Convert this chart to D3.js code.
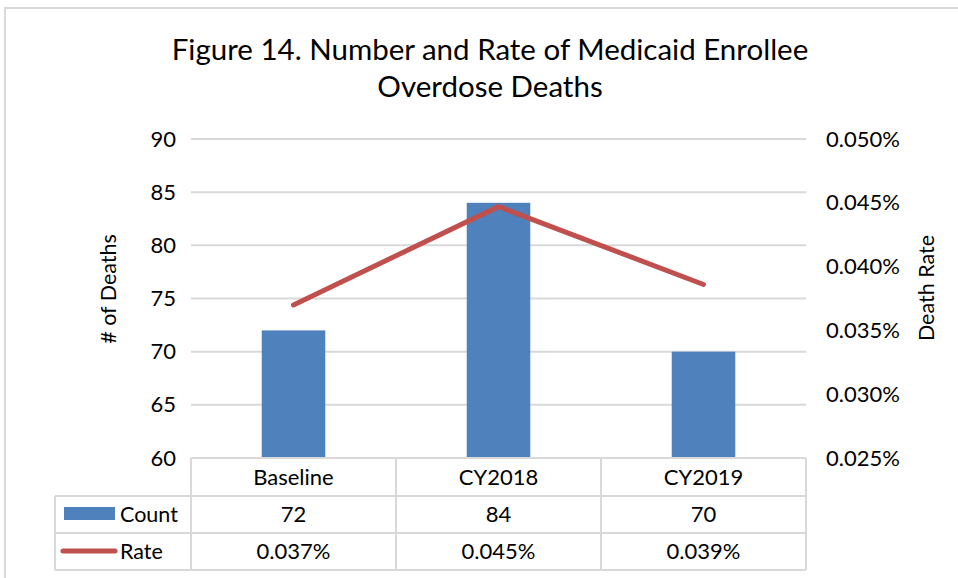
<!DOCTYPE html>
<html><head><meta charset="utf-8">
<script src="https://cdn.jsdelivr.net/npm/d3@7/dist/d3.min.js"></script>
<style>
html,body{margin:0;padding:0;background:#fff;}
svg text{font-family:"Lato","Open Sans",sans-serif;fill:#000;}
</style></head>
<body><svg id="chart" width="958" height="578"></svg>
<script>
const categories = ["Baseline", "CY2018", "CY2019"];
const counts = [72, 84, 70];
const rates = [0.0370, 0.0447, 0.0386];
const rateLabels = ["0.037%", "0.045%", "0.039%"];
const leftTicks = [60, 65, 70, 75, 80, 85, 90];
const rightTicks = [0.025, 0.030, 0.035, 0.040, 0.045, 0.050];
const titleLines = ["Figure 14. Number and Rate of Medicaid Enrollee", "Overdose Deaths"];
const seriesNames = ["Count", "Rate"];

const svg = d3.select("#chart");
const barColor = "#4F81BD", lineColor = "#C0504D", gridColor = "#D9D9D9";
const L = 191, R = 806, T = 139, B = 458;

// outer frame (top and left edges visible)
svg.append("line").attr("x1", 5).attr("x2", 958).attr("y1", 8).attr("y2", 8)
  .attr("stroke", "#D9D9D9").attr("stroke-width", 2);
svg.append("line").attr("x1", 5).attr("x2", 5).attr("y1", 7).attr("y2", 578)
  .attr("stroke", "#D9D9D9").attr("stroke-width", 2);

// title
svg.selectAll("text.title").data(titleLines).enter().append("text")
  .attr("class", "title").attr("x", 490).attr("y", (d, i) => 60 + i * 37)
  .attr("text-anchor", "middle").style("font-size", "29.5px").text(d => d);

const x = d3.scaleBand().domain(categories).range([L, R]).padding(0);
const yL = d3.scaleLinear().domain([60, 90]).range([B, T]);
const yR = d3.scaleLinear().domain([0.025, 0.05]).range([B, T]);

// gridlines
svg.append("g").selectAll("line").data(leftTicks.slice(1)).enter().append("line")
  .attr("x1", L).attr("x2", R).attr("y1", d => yL(d)).attr("y2", d => yL(d))
  .attr("stroke", gridColor).attr("stroke-width", 2);

// left axis
const axL = d3.axisLeft(yL).tickValues(leftTicks).tickSize(0).tickPadding(0);
const gL = svg.append("g").attr("transform", `translate(${176},0)`).call(axL);
gL.select(".domain").remove();
gL.selectAll("text").style("font-size", "22px").attr("fill", "#000").attr("x", 0);

// right axis
const axR = d3.axisRight(yR).tickValues(rightTicks).tickSize(0).tickPadding(0)
  .tickFormat(d => d3.format(".3f")(d) + "%");
const gR = svg.append("g").attr("transform", `translate(${826},0)`).call(axR);
gR.select(".domain").remove();
gR.selectAll("text").style("font-size", "22px").attr("fill", "#000");

// axis titles
svg.append("text").attr("transform", "translate(116,289) rotate(-90)")
  .attr("text-anchor", "middle").style("font-size", "21.5px").text("# of Deaths");
svg.append("text").attr("transform", "translate(934,288) rotate(-90)")
  .attr("text-anchor", "middle").style("font-size", "21.5px").text("Death Rate");

// bars
const bw = x.bandwidth() * 0.31;
svg.append("g").selectAll("rect").data(counts).enter().append("rect")
  .attr("x", (d, i) => x(categories[i]) + x.bandwidth() / 2 - bw / 2)
  .attr("width", bw)
  .attr("y", d => yL(d)).attr("height", d => B - yL(d))
  .attr("fill", barColor);

// line
const line = d3.line().x((d, i) => x(categories[i]) + x.bandwidth() / 2).y(d => yR(d));
svg.append("path").datum(rates).attr("d", line).attr("fill", "none")
  .attr("stroke", lineColor).attr("stroke-width", 5).attr("stroke-linecap", "round")
  .attr("stroke-linejoin", "round");

// data table
const rowY = [B, 496, 533, 570];
const tL = 55;
const tg = svg.append("g").attr("stroke", gridColor).attr("stroke-width", 2).attr("fill", "none");
tg.append("line").attr("x1", L).attr("x2", R).attr("y1", rowY[0]).attr("y2", rowY[0]);
[1, 2, 3].forEach(k => tg.append("line").attr("x1", tL).attr("x2", R).attr("y1", rowY[k]).attr("y2", rowY[k]));
tg.append("line").attr("x1", tL).attr("x2", tL).attr("y1", rowY[1]).attr("y2", rowY[3]);
categories.concat(["_end"]).forEach((c, i) => {
  const xx = i < categories.length ? x(c) : R;
  tg.append("line").attr("x1", xx).attr("x2", xx).attr("y1", rowY[0]).attr("y2", rowY[3]);
});

const mid = k => (rowY[k] + rowY[k + 1]) / 2;
svg.append("g").selectAll("text").data(categories).enter().append("text")
  .attr("x", d => x(d) + x.bandwidth() / 2).attr("y", mid(0)).attr("dy", "0.35em")
  .attr("text-anchor", "middle").style("font-size", "22px").text(d => d);
svg.append("g").selectAll("text").data(counts).enter().append("text")
  .attr("x", (d, i) => x(categories[i]) + x.bandwidth() / 2).attr("y", mid(1)).attr("dy", "0.35em")
  .attr("text-anchor", "middle").style("font-size", "22px").text(d => d);
svg.append("g").selectAll("text").data(rateLabels).enter().append("text")
  .attr("x", (d, i) => x(categories[i]) + x.bandwidth() / 2).attr("y", mid(2)).attr("dy", "0.35em")
  .attr("text-anchor", "middle").style("font-size", "22px").text(d => d);

// legend keys
svg.append("rect").attr("x", 64).attr("y", 507).attr("width", 51).attr("height", 13).attr("fill", barColor);
svg.append("line").attr("x1", 63).attr("x2", 115).attr("y1", 551).attr("y2", 551)
  .attr("stroke", lineColor).attr("stroke-width", 5).attr("stroke-linecap", "round");
svg.append("g").selectAll("text").data(seriesNames).enter().append("text")
  .attr("x", 120).attr("y", (d, i) => mid(i + 1)).attr("dy", "0.35em")
  .style("font-size", "21.5px").text(d => d);
</script></body></html>
